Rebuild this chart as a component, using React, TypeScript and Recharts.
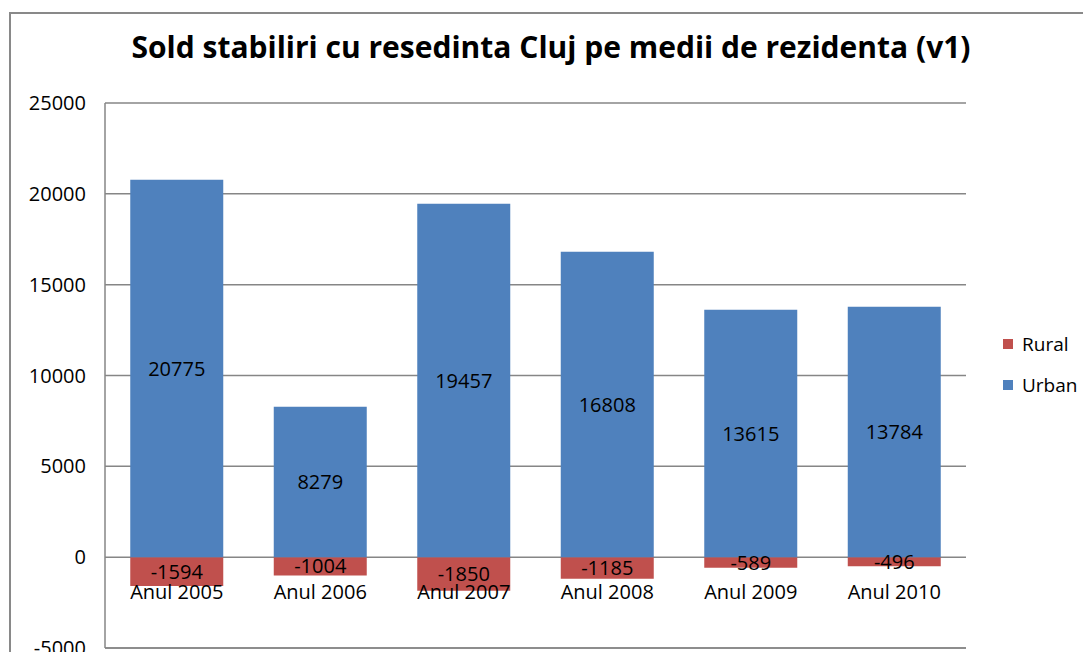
import { BarChart, Bar, XAxis, YAxis, CartesianGrid, Legend, LabelList } from "recharts";

const categories = ["Anul 2005", "Anul 2006", "Anul 2007", "Anul 2008", "Anul 2009", "Anul 2010"];
const urban = [20775, 8279, 19457, 16808, 13615, 13784];
const rural = [-1594, -1004, -1850, -1185, -589, -496];
const yTicks = [-5000, 0, 5000, 10000, 15000, 20000, 25000];

const series = [
  { key: "Rural", color: "#C0504D" },
  { key: "Urban", color: "#4F81BD" },
];

const data = categories.map((name, i) => ({ name, Urban: urban[i], Rural: rural[i] }));

const FONT = "'Open Sans', sans-serif";

function CategoryLabel(props: any) {
  const { x, y, width, height, value } = props;
  // urban bars start at zero, so y + height is the zero line
  return (
    <text x={x + width / 2} y={y + height + 34} textAnchor="middle" dominantBaseline="central" fontSize={20} fill="#000" fontFamily={FONT}>
      {value}
    </text>
  );
}

function LegendBox() {
  return (
    <div style={{ width: 120, paddingLeft: 37, boxSizing: "border-box", fontFamily: FONT, fontSize: 19 }}>
      {series.map((s) => (
        <div key={s.key} style={{ display: "flex", alignItems: "center", height: 41 }}>
          <span style={{ width: 10, height: 10, background: s.color, marginRight: 9 }} />
          <span>{s.key}</span>
        </div>
      ))}
    </div>
  );
}

export default function App() {
  return (
    <div style={{ position: "fixed", left: 0, top: 0, width: 1083, height: 652, overflow: "hidden", background: "#fff" }}>
      <div style={{ position: "absolute", left: 9, top: 12, width: 1200, height: 800, border: "2px solid #898989" }}>
        <div style={{ position: "absolute", left: 0, top: 15, width: 1080, textAlign: "center", fontFamily: FONT, fontWeight: 700, fontSize: 30, lineHeight: "36px" }}>
          Sold stabiliri cu resedinta Cluj pe medii de rezidenta (v1)
        </div>
        <BarChart
          width={1100}
          height={700}
          data={data}
          stackOffset="sign"
          barCategoryGap="17.6%"
          margin={{ top: 89, right: 25, bottom: 36, left: 0 }}
        >
          <CartesianGrid vertical={false} stroke="#868686" strokeWidth={1.5} />
          <XAxis dataKey="name" tick={false} tickLine={false} axisLine={{ stroke: "#868686", strokeWidth: 1.5 }} height={30} />
          <YAxis
            domain={[-5000, 25000]}
            ticks={yTicks}
            interval={0}
            width={94}
            tickLine={false}
            tickSize={0}
            tickMargin={19}
            axisLine={{ stroke: "#868686", strokeWidth: 1.5 }}
            tick={{ fill: "#000", fontSize: 20, fontFamily: FONT }}
          />
          <Legend layout="vertical" align="right" verticalAlign="middle" content={() => <LegendBox />} />
          <Bar dataKey="Rural" stackId="a" fill="#C0504D" isAnimationActive={false}>
            <LabelList dataKey="Rural" position="center" fill="#000" fontSize={20} fontFamily={FONT} />
          </Bar>
          <Bar dataKey="Urban" stackId="a" fill="#4F81BD" isAnimationActive={false}>
            <LabelList dataKey="Urban" position="center" fill="#000" fontSize={20} fontFamily={FONT} />
            <LabelList dataKey="name" content={CategoryLabel} />
          </Bar>
        </BarChart>
      </div>
    </div>
  );
}
